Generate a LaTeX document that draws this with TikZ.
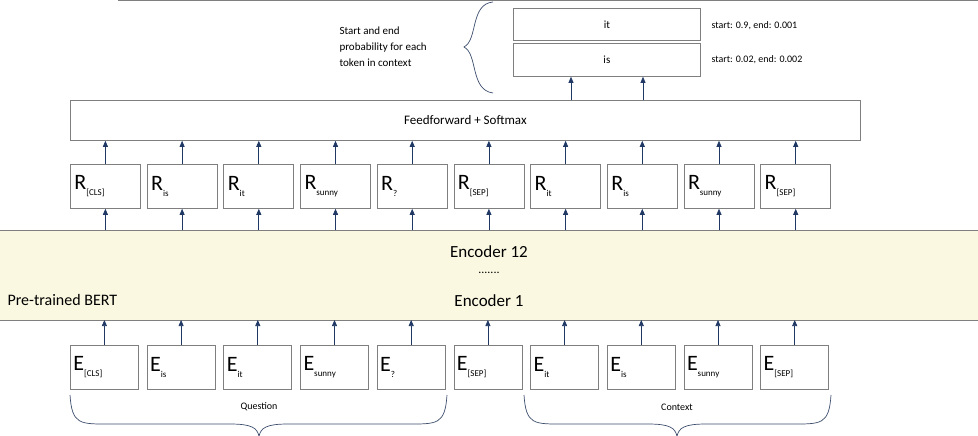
\documentclass[tikz,border=0pt]{standalone}
\usepackage{fontspec}
\setmainfont{Carlito}
\usetikzlibrary{arrows.meta}
\definecolor{navy}{HTML}{1F3864}
\definecolor{band}{HTML}{FBF8E1}
\definecolor{edge}{HTML}{7F7F7F}
\tikzset{
  tok/.style={draw=edge,line width=0.8pt,minimum width=70pt,minimum height=44pt,anchor=north west,inner sep=0pt},
  arr/.style={draw=navy,line width=0.7pt,-{Triangle[length=6pt,width=5pt]}},
  brc/.style={draw=navy!70!gray,line width=0.7pt},
}
\newcommand{\tk}[2]{\makebox[62pt][l]{\fontsize{22}{22}\selectfont #1\raisebox{-6pt}{\fontsize{9}{9}\selectfont #2}}}
\begin{document}
\begin{tikzpicture}[x=1pt,y=-1pt]
\useasboundingbox (0,0) rectangle (978,436);
% top line
\draw[edge,line width=1pt] (118,1) -- (978,1);
% output boxes
\node[draw=edge,line width=0.8pt,anchor=north west,minimum width=187pt,minimum height=32pt,inner sep=0pt,font=\fontsize{11}{11}\selectfont] (oit) at (513,8) {it};
\node[draw=edge,line width=0.8pt,anchor=north west,minimum width=187pt,minimum height=33pt,inner sep=0pt,font=\fontsize{11}{11}\selectfont] (ois) at (513,43) {is};
\node[anchor=west,font=\fontsize{10}{10}\selectfont] (p1) at (708,26) {start: 0.9, end: 0.001};
\node[anchor=west,font=\fontsize{10}{10}\selectfont] (p2) at (708,60) {start: 0.02, end: 0.002};
\node[anchor=west,align=left,font=\fontsize{11}{16}\selectfont] (lab) at (336,47) {Start and end\\probability for each\\token in context};
\draw[brc] (493,2) .. controls (470,4) and (478,40) .. (464,47) .. controls (478,54) and (470,90) .. (493,93);
% feedforward
\node[draw=edge,line width=0.8pt,anchor=north west,minimum width=790pt,minimum height=40pt,inner sep=0pt,font=\fontsize{13}{13}\selectfont] (ff) at (70,100) {Feedforward + Softmax};
\coordinate (fa) at (571,100); \coordinate (fb) at (643,100);
\draw[arr] (fa) -- (fa |- ois.south);
\draw[arr] (fb) -- (fb |- ois.south);
% band
\fill[band] (0,230) rectangle (978,320);
\draw[edge,line width=1pt] (0,230) -- (978,230);
\draw[edge,line width=1pt] (0,320) -- (978,320);
\node[font=\fontsize{17}{17}\selectfont] (enc12) at (489,252) {Encoder 12};
\node[font=\fontsize{12}{12}\selectfont] (dots) at (489,273) {.......};
\node[font=\fontsize{17}{17}\selectfont] (enc1) at (489,301) {Encoder 1};
\node[anchor=west,font=\fontsize{16}{16}\selectfont] (bert) at (4,300) {Pre-trained BERT};
\coordinate (bandtop) at (0,230); \coordinate (bandbot) at (0,320);
% tokens
\foreach \i/\s in {0/[CLS],1/is,2/it,3/sunny,4/?,5/[SEP],6/it,7/is,8/sunny,9/[SEP]}{
  \pgfmathsetmacro\xx{70+76.7*\i}
  \node[tok] (R\i) at (\xx,164) {\tk{R}{\s}};
  \node[tok,minimum width=68pt] (E\i) at (\xx,345) {\tk{E}{\s}};
  \draw[arr] (R\i.north) -- (R\i.north |- ff.south);
  \draw[arr] (R\i.south |- bandtop) -- (R\i.south);
  \draw[arr] (E\i.north) -- (E\i.north |- bandbot);
}
% braces
\draw[brc] (70,395) .. controls (72,425) and (80,424) .. (110,424) -- (230,424) .. controls (252,424) and (257,428) .. (259,436);
\draw[brc] (447,395) .. controls (445,425) and (437,424) .. (407,424) -- (288,424) .. controls (266,424) and (261,428) .. (259,436);
\node[font=\fontsize{10}{10}\selectfont] (q) at (259,407) {Question};
\draw[brc] (524,395) .. controls (526,425) and (534,424) .. (564,424) -- (648,424) .. controls (670,424) and (675,428) .. (677,436);
\draw[brc] (831,395) .. controls (829,425) and (821,424) .. (791,424) -- (706,424) .. controls (684,424) and (679,428) .. (677,436);
\node[font=\fontsize{10}{10}\selectfont] (c) at (677,407) {Context};
\end{tikzpicture}
\end{document}
